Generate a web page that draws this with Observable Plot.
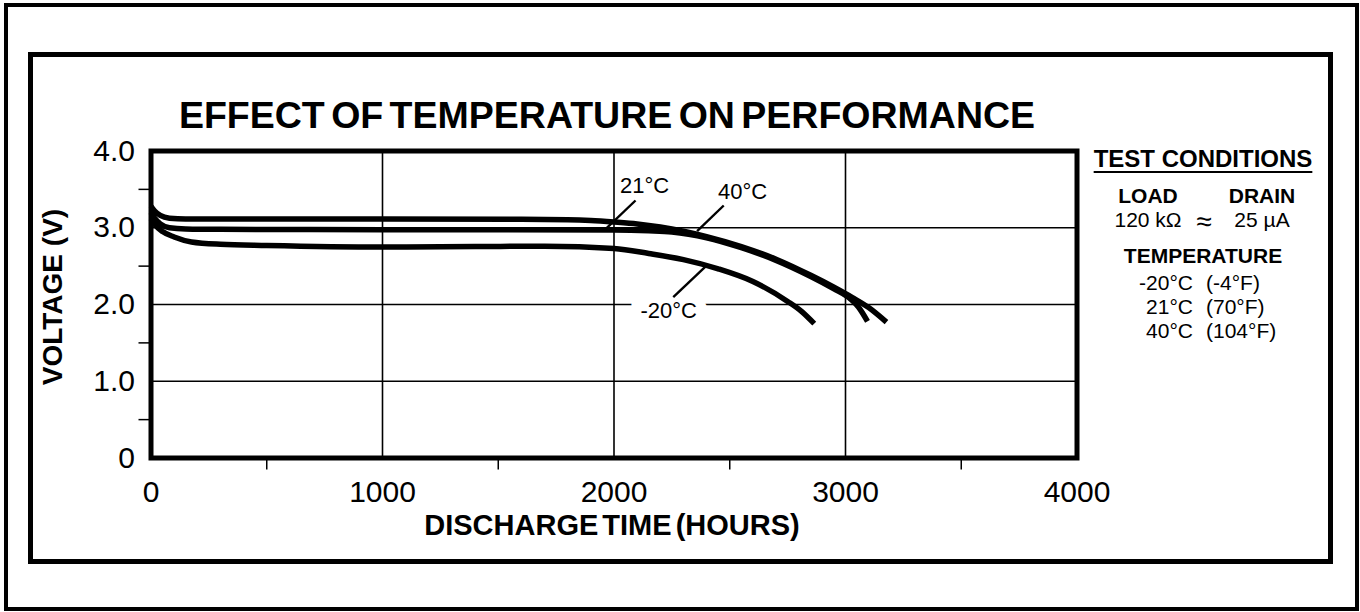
<!DOCTYPE html>
<html>
<head>
<meta charset="utf-8">
<script src="https://cdn.jsdelivr.net/npm/d3@7"></script>
<script src="https://cdn.jsdelivr.net/npm/@observablehq/plot@0.6"></script>
<style>
  html, body { margin: 0; padding: 0; background: #fff; }
  #page { position: relative; width: 1360px; height: 612px; overflow: hidden; font-family: "Liberation Sans", Arial, Helvetica, sans-serif; color: #000; }
  #chart { position: absolute; left: 0; top: 0; }
  .box { position: absolute; box-sizing: border-box; border-style: solid; border-color: #000; pointer-events: none; }
  .t { position: absolute; line-height: 1; white-space: pre; }
  .c { transform: translateX(-50%); text-align: center; }
  .r { transform: translateX(-100%); text-align: right; }
  .b { font-weight: bold; }
</style>
</head>
<body>
<div id="page">
  <div id="chart"></div>
  <div class="box" style="left:4px;top:3px;width:1355px;height:608px;border-width:4px;"></div>
  <div class="box" style="left:28px;top:52px;width:1305px;height:512px;border-width:5px;"></div>

  <div class="t c b" style="left:607px;top:97px;font-size:37.5px;word-spacing:-4px;">EFFECT OF TEMPERATURE ON PERFORMANCE</div>
  <div class="t c b" style="left:612px;top:511px;font-size:29px;word-spacing:-4px;">DISCHARGE TIME (HOURS)</div>
  <div class="t b" style="left:-97px;top:283px;width:300px;height:28px;text-align:center;font-size:28px;transform:rotate(-90deg);transform-origin:150px 14px;">VOLTAGE (V)</div>

  <div class="t c b" style="left:1203px;top:147px;font-size:24px;text-decoration:underline;text-decoration-thickness:2px;text-underline-offset:4px;">TEST CONDITIONS</div>
  <div class="t c b" style="left:1148px;top:185px;font-size:21px;">LOAD</div>
  <div class="t c b" style="left:1262px;top:185px;font-size:21px;">DRAIN</div>
  <div class="t c" style="left:1148px;top:209px;font-size:21px;">120 kΩ</div>
  <div class="t c" style="left:1204px;top:208px;font-size:28px;">≈</div>
  <div class="t c" style="left:1262px;top:209px;font-size:21px;">25 µA</div>
  <div class="t c b" style="left:1203px;top:245px;font-size:21px;">TEMPERATURE</div>
  <div id="temps"></div>
</div>
<script>
// ---- data ----
const xMajorTicks = [0, 1000, 2000, 3000, 4000];
const xMinorTicks = [500, 1500, 2500, 3500];
const yMajorTicks = [0, 1, 2, 3, 4];
const yMinorTicks = [0.5, 1.5, 2.5, 3.5];
const xGrid = [1000, 2000, 3000];
const yGrid = [1, 2, 3];

const hours40 = [0, 15, 40, 80, 150, 300, 1000, 1600, 1800, 1900, 2000, 2100, 2200, 2300, 2400, 2550, 2700, 2850, 2950, 3030, 3100, 3177];
const volts40 = [3.28, 3.22, 3.16, 3.125, 3.115, 3.115, 3.115, 3.11, 3.105, 3.095, 3.075, 3.05, 3.01, 2.955, 2.885, 2.755, 2.59, 2.38, 2.225, 2.09, 1.96, 1.77];

const hours21 = [0, 15, 40, 80, 150, 300, 1000, 2000, 2150, 2250, 2400, 2550, 2700, 2850, 2950, 3010, 3055, 3095];
const volts21 = [3.20, 3.13, 3.05, 3.00, 2.985, 2.98, 2.975, 2.97, 2.96, 2.945, 2.87, 2.74, 2.575, 2.365, 2.205, 2.10, 1.97, 1.78];

const hoursM20 = [0, 20, 50, 100, 175, 300, 500, 1000, 1400, 1700, 2000, 2150, 2300, 2450, 2600, 2750, 2810, 2865];
const voltsM20 = [3.12, 3.03, 2.95, 2.88, 2.815, 2.785, 2.77, 2.75, 2.755, 2.76, 2.73, 2.665, 2.585, 2.465, 2.30, 2.04, 1.91, 1.75];

const seriesNames = ["40°C", "21°C", "-20°C"];

const labelText = ["21°C", "40°C", "-20°C"];
const labelHours = [2132, 2555, 2236];
const labelVolts = [3.54, 3.46, 1.91];
const leaderFromHours = [2093, 2474, 2256];
const leaderFromVolts = [3.355, 3.29, 2.095];
const leaderToHours = [1968, 2359, 2395];
const leaderToVolts = [2.994, 2.955, 2.495];

const legendTempC = ["-20°C", "21°C", "40°C"];
const legendTempF = ["(-4°F)", "(70°F)", "(104°F)"];

// ---- build tables ----
const seriesData = [[hours40, volts40], [hours21, volts21], [hoursM20, voltsM20]]
  .flatMap(([h, v], s) => h.map((x, i) => ({series: seriesNames[s], hours: x, volts: v[i]})));
const labels = labelText.map((t, i) => ({text: t, hours: labelHours[i], volts: labelVolts[i]}));
const leaders = labelText.map((t, i) => ({x1: leaderFromHours[i], y1: leaderFromVolts[i], x2: leaderToHours[i], y2: leaderToVolts[i]}));

const font = "'Liberation Sans', Arial, Helvetica, sans-serif";

const chart = Plot.plot({
  width: 1360,
  height: 612,
  marginLeft: 150.5,
  marginRight: 283.5,
  marginTop: 150.5,
  marginBottom: 154.5,
  x: {domain: [0, 4000]},
  y: {domain: [0, 4]},
  style: {fontFamily: font, background: "transparent", color: "#000", overflow: "visible"},
  marks: [
    Plot.gridX(xGrid, {stroke: "#000", strokeOpacity: 1, strokeWidth: 1.6}),
    Plot.gridY(yGrid, {stroke: "#000", strokeOpacity: 1, strokeWidth: 1.6}),
    Plot.axisX(xMajorTicks, {tickSize: 0, tickPadding: 22.5, fontSize: 30, label: null, tickFormat: d3.format("d")}),
    Plot.axisX(xMinorTicks, {tickSize: 12, tickFormat: () => "", label: null, strokeWidth: 1.5}),
    Plot.axisY(yMajorTicks, {tickSize: 0, tickPadding: 16, fontSize: 30, label: null, tickFormat: d => d === 0 ? "0" : d.toFixed(1)}),
    Plot.axisY(yMinorTicks, {tickSize: 12, tickFormat: () => "", label: null, strokeWidth: 1.5}),
    // white backing for labels that sit on a grid line
    Plot.text(labels, {
      filter: d => yGrid.some(g => Math.abs(g - d.volts) < 0.15),
      x: "hours", y: "volts", text: "text", fontSize: 22,
      fill: "white", stroke: "white", strokeWidth: 20, strokeLinejoin: "miter"
    }),
    Plot.link(leaders, {x1: "x1", y1: "y1", x2: "x2", y2: "y2", stroke: "#000", strokeWidth: 2.4}),
    Plot.line(seriesData, {x: "hours", y: "volts", z: "series", stroke: "#000", strokeWidth: 5.5, curve: "monotone-x", strokeLinecap: "butt"}),
    Plot.text(labels, {x: "hours", y: "volts", text: "text", fontSize: 22, fill: "#000"}),
    Plot.frame({stroke: "#000", strokeWidth: 5})
  ]
});
document.getElementById("chart").appendChild(chart);

// legend temperature rows
const temps = document.getElementById("temps");
legendTempC.forEach((c, i) => {
  const top = 272 + i * 24;
  const a = document.createElement("div");
  a.className = "t r";
  a.style.cssText = `left:1193px;top:${top}px;font-size:21px;`;
  a.textContent = c;
  const b = document.createElement("div");
  b.className = "t";
  b.style.cssText = `left:1206px;top:${top}px;font-size:21px;`;
  b.textContent = legendTempF[i];
  temps.appendChild(a);
  temps.appendChild(b);
});
</script>
</body>
</html>
